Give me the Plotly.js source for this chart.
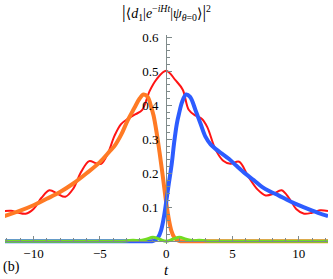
<!DOCTYPE html>
<html>
<head>
<meta charset="utf-8">
<script src="https://cdn.plot.ly/plotly-3.0.1.min.js"></script>
<style>html,body{margin:0;padding:0;background:#fff;}#plot{width:333px;height:279px;}</style>
</head>
<body>
<div id="plot"></div>
<script>
// Data
const tRed = [-12.2,-11.7,-11.2,-10.6,-10.0,-9.4,-8.8,-8.2,-7.6,-7.0,-6.4,-5.8,-5.3,-4.9,-4.4,-3.9,-3.4,-2.9,-2.3,-1.8,-1.25,-0.7,0,0.7,1.25,1.7,2.2,2.7,3.1,3.7,4.3,4.85,5.5,6.2,6.9,7.5,8.1,8.7,9.3,9.8,10.4,11.0,11.6,12.2];
const red  = [0.089,0.09,0.085,0.081,0.095,0.128,0.15,0.14,0.131,0.155,0.205,0.236,0.23,0.228,0.258,0.31,0.345,0.36,0.374,0.387,0.442,0.478,0.502,0.474,0.446,0.387,0.37,0.36,0.336,0.272,0.237,0.228,0.234,0.19,0.152,0.135,0.14,0.15,0.125,0.095,0.081,0.084,0.091,0.089];

const tOrange = [-12.2,-11,-10,-9,-8,-7,-6,-5,-4.25,-3.9,-3.4,-2.9,-2.4,-2.0,-1.7,-1.4,-1.13,-0.95,-0.7,-0.5,-0.25,0,0.2,0.4,0.6,0.8,1.0,2,4,6,8,10,12.2];
const orange  = [0.074,0.09,0.106,0.125,0.145,0.17,0.2,0.233,0.265,0.28,0.313,0.356,0.392,0.42,0.432,0.425,0.395,0.37,0.315,0.262,0.19,0.115,0.065,0.03,0.012,0.004,0.001,0,0,0,0,0,0];

const tBlue = [-12.2,-10,-8,-6,-4,-2,-1.0,-0.8,-0.6,-0.4,-0.2,0,0.2,0.42,0.6,0.8,0.97,1.2,1.5,1.8,2.22,2.6,2.97,3.35,3.72,4.2,4.72,5.3,5.97,6.6,7.22,7.8,8.47,9.1,9.72,10.4,10.97,11.5,12.2];
const blue  = [0,0,0,0,0,0,0.001,0.004,0.012,0.03,0.065,0.115,0.17,0.228,0.29,0.345,0.376,0.41,0.432,0.425,0.385,0.345,0.307,0.285,0.272,0.258,0.243,0.222,0.199,0.18,0.16,0.147,0.135,0.122,0.111,0.1,0.091,0.083,0.074];

const tGreen = [-12.2,-4,-3,-2.5,-2,-1.5,-1.0,-0.5,0,0.5,1.0,1.5,2,2.5,3,4,12.2];
const green  = [0,0,0.001,0.003,0.002,0.006,0.012,0.006,0,0.006,0.012,0.006,0.002,0.003,0.001,0,0];

const xTickVals = [-10,-5,0,5,10];
const xTickText = ["\u221210","\u22125","0","5","10"];
const yTickVals = [0.1,0.2,0.3,0.4,0.5,0.6];
const yTickText = ["0.1","0.2","0.3","0.4","0.5","0.6"];

const xr = [-12.15, 12.2];
const yr = [-0.008, 0.607];

const mk = (x, y, color, w) => ({x: x, y: y, type: 'scatter', mode: 'lines',
  line: {color: color, width: w, shape: 'spline', smoothing: 1}, hoverinfo: 'skip', showlegend: false});

const traces = [
  mk(tRed, red, '#ff1414', 2),
  mk(tOrange, orange, '#ff7a24', 4),
  mk(tBlue, blue, '#2d5cff', 4),
  mk(tGreen, green, '#72dc22', 3)
];

const serif = 'Liberation Serif, DejaVu Serif, serif';
const axisCol = '#7f8a8a';

const layout = {
  width: 333, height: 279,
  margin: {l: 5, r: 5, t: 35, b: 35},
  paper_bgcolor: '#fff', plot_bgcolor: '#fff',
  showlegend: false,
  font: {family: serif, size: 13, color: '#000'},
  title: {
    text: '<span style="font-size:18px">|</span>\u27e8<i>d</i><sub>1</sub>|<i>e</i><sup>\u2212<i>iHt</i></sup>|<i>\u03c8</i><sub><i>\u03b8</i>=0</sub>\u27e9<span style="font-size:18px">|</span><sup>2</sup>',
    font: {family: serif, size: 14, color: '#000'},
    x: 0.5, xanchor: 'center', xref: 'paper',
    y: 1 - 13/279, yanchor: 'middle', yref: 'container'
  },
  xaxis: {
    range: xr, anchor: 'free', position: (0 - yr[0]) / (yr[1] - yr[0]),
    showgrid: false, zeroline: false, showline: true, linecolor: axisCol, linewidth: 1,
    tickmode: 'array', tickvals: xTickVals, ticktext: xTickText,
    ticks: 'inside', ticklen: 5, tickcolor: axisCol, tickwidth: 1,
    minor: {dtick: 1, ticks: 'inside', ticklen: 3, tickcolor: axisCol, tickwidth: 1, showgrid: false},
    tickfont: {family: serif, size: 13, color: '#000'}, ticklabelstandoff: 0,
    fixedrange: true
  },
  yaxis: {
    range: yr, anchor: 'free', position: (0 - xr[0]) / (xr[1] - xr[0]),
    showgrid: false, zeroline: false, showline: true, linecolor: axisCol, linewidth: 1,
    tickmode: 'array', tickvals: yTickVals, ticktext: yTickText,
    ticks: 'inside', ticklen: 5, tickcolor: axisCol, tickwidth: 1,
    minor: {dtick: 0.02, tick0: 0, ticks: 'inside', ticklen: 3, tickcolor: axisCol, tickwidth: 1, showgrid: false},
    tickfont: {family: serif, size: 13, color: '#000'}, ticklabelstandoff: 5,
    fixedrange: true
  },
  annotations: [
    {text: '<i>t</i>', xref: 'paper', yref: 'paper', x: (0 - xr[0]) / (xr[1] - xr[0]), y: -(270 - 244) / 209,
     xanchor: 'center', yanchor: 'middle', showarrow: false, font: {family: serif, size: 15, color: '#000'}},
    {text: '(b)', xref: 'paper', yref: 'paper', x: -4 / 323, y: -(267 - 244) / 209,
     xanchor: 'left', yanchor: 'middle', showarrow: false, font: {family: serif, size: 14, color: '#000'}}
  ]
};

Plotly.newPlot('plot', traces, layout, {displayModeBar: false, staticPlot: true});
</script>
</body>
</html>
